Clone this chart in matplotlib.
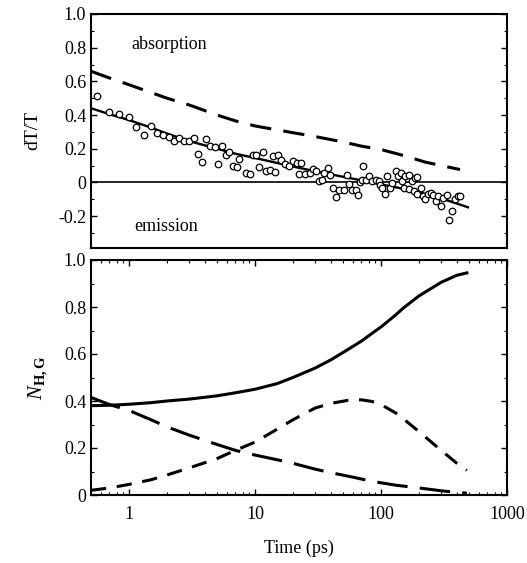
import numpy as np
import matplotlib
matplotlib.use("Agg")
import matplotlib.pyplot as plt
from matplotlib.ticker import MultipleLocator, NullFormatter

plt.rcParams['font.family'] = ['Liberation Serif', 'DejaVu Serif']
plt.rcParams['mathtext.fontset'] = 'custom'
plt.rcParams['mathtext.rm'] = 'Liberation Serif'
plt.rcParams['mathtext.it'] = 'Liberation Serif:italic'
plt.rcParams['mathtext.bf'] = 'Liberation Serif:bold'

# --- top panel: measured dT/T (circles) ---
t_data = [0.557, 0.69, 0.83, 1.0, 1.14, 1.32, 1.51, 1.68, 1.88, 2.08, 2.27, 2.51,
          2.73, 2.98, 3.27, 3.54, 3.80, 4.11, 4.42, 4.78, 5.08, 5.46, 5.84, 6.28,
          6.75, 7.18, 7.43, 8.5, 9.1, 9.7, 10.2, 10.8, 11.5, 12.2, 13.1, 14.4,
          13.9, 15.2, 16.2, 17.2, 18.6, 20.0, 21.5, 23.3, 22.3, 24.8, 27.1, 28.8,
          30.6, 32.1, 34.1, 35.5, 37.8, 39.4, 41.9, 44.0, 46.7, 51.2, 53.3, 56.0,
          59.4, 63.1, 65.5, 68.4, 71.3, 72.6, 76.6, 80.5, 85.5, 90.8, 96.4, 98.2,
          102, 107, 112, 118, 123, 131, 137, 143, 147, 154, 166, 175, 185, 193,
          152, 166, 182, 193, 209, 214, 225, 236, 251, 261, 274, 286, 301, 313,
          333, 348, 364, 387, 411, 424]
dtt_data = [0.514, 0.417, 0.405, 0.39, 0.328, 0.283, 0.332, 0.296, 0.283, 0.267, 0.247, 0.263,
            0.243, 0.243, 0.263, 0.168, 0.121, 0.259, 0.213, 0.21, 0.109, 0.213, 0.164, 0.178,
            0.095, 0.089, 0.139, 0.056, 0.05, 0.164, 0.164, 0.089, 0.18, 0.065, 0.075, 0.061,
            0.154, 0.16, 0.134, 0.109, 0.095, 0.129, 0.115, 0.115, 0.052, 0.052, 0.056, 0.079,
            0.065, 0.01, 0.012, 0.056, 0.085, 0.046, -0.033, -0.089, -0.043, -0.043, 0.041, -0.008,
            -0.043, -0.043, -0.073, 0.0, 0.016, 0.099, 0.012, 0.04, 0.006, 0.012, 0.006, -0.014,
            -0.033, -0.069, 0.04, -0.033, -0.004, 0.065, 0.036, 0.056, 0.006, 0.04, 0.046, 0.006, 0.026, 0.03,
            -0.033, -0.039, -0.053, -0.069, -0.033, -0.083, -0.099, -0.069, -0.063, -0.073, -0.113, -0.083, -0.138, -0.092,
            -0.073, -0.225, -0.172, -0.099, -0.083, -0.079]

# fit (solid) and model (dashed) curves of the top panel
t_fit = [0.5, 0.7, 1, 1.5, 2, 3, 5, 7, 10, 15, 20, 30, 50, 70, 100, 150, 200, 300, 490]
dtt_fit = [0.44, 0.405, 0.37, 0.325, 0.29, 0.245, 0.20, 0.17, 0.145, 0.115, 0.094, 0.066,
           0.033, 0.012, -0.012, -0.038, -0.059, -0.095, -0.148]
t_model = [0.5, 0.7, 1, 2, 3, 5, 7, 10, 20, 30, 50, 70, 100, 150, 225, 300, 424]
dtt_model = [0.66, 0.62, 0.58, 0.50, 0.46, 0.40, 0.365, 0.335, 0.295, 0.272, 0.24, 0.215,
             0.195, 0.16, 0.12, 0.10, 0.076]

# --- bottom panel: populations ---
t_pop = [0.5, 0.7, 1, 1.5, 2, 3, 5, 7, 10, 15, 20, 30, 40, 55, 70, 85, 100, 130, 150,
         200, 300, 400, 480]
n_total = [0.38, 0.382, 0.386, 0.393, 0.40, 0.408, 0.422, 0.435, 0.45, 0.474, 0.50, 0.54,
           0.575, 0.62, 0.655, 0.688, 0.715, 0.765, 0.795, 0.847, 0.905, 0.935, 0.945]
n_mid = [0.02, 0.03, 0.045, 0.065, 0.085, 0.115, 0.155, 0.19, 0.225, 0.28, 0.32, 0.37,
         0.39, 0.403, 0.405, 0.398, 0.385, 0.35, 0.325, 0.27, 0.19, 0.135, 0.105]
n_decay = [0.415, 0.385, 0.36, 0.32, 0.29, 0.255, 0.215, 0.19, 0.17, 0.15, 0.135, 0.11,
           0.095, 0.08, 0.068, 0.058, 0.052, 0.042, 0.038, 0.03, 0.018, 0.011, 0.008]

fig = plt.figure(figsize=(5.27, 5.63), dpi=100)
ax1 = fig.add_axes([91/527, 1-248/563, 416/527, 234/563])
ax2 = fig.add_axes([91/527, 1-495/563, 416/527, 235/563])

lw = 2.2
ax1.axhline(0, color='black', lw=1.2)
ax1.plot(t_model, dtt_model, color='black', lw=lw, dashes=(7, 4))
ax1.plot(t_fit, dtt_fit, color='black', lw=1.7)
ax1.plot(t_data, dtt_data, 'o', mfc='white', mec='black', mew=0.9, ms=4.7, ls='none')

ax2.plot(t_pop, n_total, color='black', lw=lw)
ax2.plot(t_pop, n_mid, color='black', lw=lw, dashes=(5, 3.5))
ax2.plot(t_pop, n_decay, color='black', lw=lw, dashes=(10, 4))

for ax in (ax1, ax2):
    ax.set_xscale('log')
    ax.set_xlim(0.5, 1000)
    for s in ax.spines.values():
        s.set_linewidth(1.5)
    ax.yaxis.set_major_locator(MultipleLocator(0.2))
    ax.yaxis.set_minor_locator(MultipleLocator(0.1))
    ax.tick_params(which='both', direction='in', right=True, top=True, labelsize=13)
    ax.tick_params(which='major', length=4, width=1)
    ax.tick_params(which='minor', length=2.5, width=0.8)

ax1.set_ylim(-0.39, 1.0)
ax1.set_yticks([-0.2, 0, 0.2, 0.4, 0.6, 0.8, 1.0])
ax1.set_yticklabels(['-0.2', '0', '0.2', '0.4', '0.6', '0.8', '1.0'])
ax1.tick_params(axis='x', which='both', length=0, labelbottom=False)
ax1.set_ylabel('dT/T', fontsize=14, labelpad=12)
ax1.text(1.04, 0.82, 'absorption', fontsize=13, va='center')
ax1.text(1.1, -0.26, 'emission', fontsize=13, va='center')

ax2.set_ylim(0, 1.0)
ax2.set_yticks([0, 0.2, 0.4, 0.6, 0.8, 1.0])
ax2.set_yticklabels(['0', '0.2', '0.4', '0.6', '0.8', '1.0'])
ax2.set_xticks([1, 10, 100, 1000])
ax2.set_xticklabels(['1', '10', '100', '1000'])
ax2.xaxis.set_minor_formatter(NullFormatter())
ax2.tick_params(axis='x', which='major', pad=8)
ax2.set_ylabel(r'$\mathit{N}_{\mathbf{H,G}}$', fontsize=15, labelpad=10)
ax2.set_xlabel('Time (ps)', fontsize=13, labelpad=12)

fig.savefig('out.png', dpi=100)
